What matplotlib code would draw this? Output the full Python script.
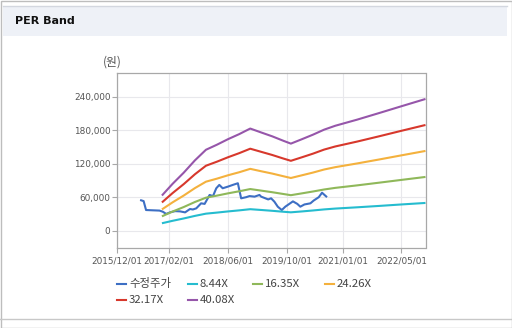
import matplotlib
matplotlib.use("Agg")
import matplotlib.pyplot as plt
from matplotlib.lines import Line2D
from matplotlib.patches import Rectangle
from matplotlib.ticker import FuncFormatter
import pandas as pd

# ---------------- data ----------------
price_dates = ["2016-06-06", "2016-07-05", "2016-07-25", "2016-11-13", "2016-12-10",
               "2017-01-07", "2017-02-10", "2017-03-22", "2017-05-01", "2017-06-12",
               "2017-07-22", "2017-08-15", "2017-09-12", "2017-10-22", "2017-11-20",
               "2017-12-31", "2018-01-28", "2018-02-24", "2018-03-21", "2018-04-18",
               "2018-06-01", "2018-07-10", "2018-08-21", "2018-09-17", "2018-10-28",
               "2018-11-25", "2019-01-06", "2019-02-15", "2019-03-01", "2019-04-28",
               "2019-05-22", "2019-06-18", "2019-07-16", "2019-08-18", "2019-09-16",
               "2019-11-18", "2019-12-24", "2020-01-18", "2020-02-21", "2020-04-10",
               "2020-05-07", "2020-06-18", "2020-07-15", "2020-08-25"]
price = [55000, 53000, 37000, 36000, 34000,
         30000, 33000, 35000, 34600, 32800,
         38800, 38000, 40000, 49000, 48000,
         64000, 62000, 76000, 82000, 76000,
         79000, 82000, 85000, 58000, 60000,
         62000, 61000, 64000, 61000, 56000,
         58000, 52000, 43000, 37000, 43000,
         52500, 48000, 43000, 47000, 49000,
         54000, 60000, 68000, 60000]

band_dates = ["2016-12-03", "2017-03-01", "2017-06-01", "2017-09-01", "2017-12-01",
              "2018-03-01", "2018-06-01", "2018-09-01", "2018-12-01", "2019-03-01",
              "2019-06-01", "2019-09-01", "2019-11-01", "2020-02-01", "2020-05-01",
              "2020-08-01", "2020-11-01", "2021-05-01", "2021-11-01", "2022-05-01",
              "2022-11-15"]
band_844 = [13300, 17700, 21900, 26500, 30500, 32400, 34500, 36400, 38500, 37100,
            35600, 33900, 32900, 34500, 36200, 38100, 39600, 41900, 44400, 47000, 49700]
band_1635 = [25700, 34300, 42400, 51400, 59100, 62800, 66900, 70600, 74600, 71800,
             68900, 65700, 63600, 66900, 70200, 73800, 76700, 81200, 86100, 91000, 96300]
band_2426 = [38100, 50800, 63000, 76300, 87800, 93200, 99300, 104700, 110800, 106500,
             102300, 97500, 94400, 99300, 104100, 109600, 113800, 120500, 127700, 135000, 142900]
band_3217 = [50600, 67400, 83500, 101100, 116400, 123600, 131600, 138900, 146900, 141300,
             135600, 129200, 125200, 131600, 138000, 145300, 150900, 159700, 169300, 179000, 189400]
band_4008 = [63000, 84000, 104000, 126000, 145000, 154000, 164000, 173000, 183000, 176000,
             169000, 161000, 156000, 164000, 172000, 181000, 188000, 199000, 211000, 223000, 236000]

labels = ["수정주가", "8.44X", "16.35X", "24.26X", "32.17X", "40.08X"]
colors = ["#3d6fc4", "#25bccf", "#8fb85a", "#f4b13d", "#d7382c", "#9656aa"]

xtick_labels = ["2015/12/01", "2017/02/01", "2018/06/01", "2019/10/01", "2021/01/01", "2022/05/01"]
yticks = [0, 60000, 120000, 180000, 240000]

# ---------------- figure ----------------
W, H = 512, 328
fig = plt.figure(figsize=(W / 100, H / 100), dpi=100)
fig.patch.set_facecolor("white")

def px(x, y):
    return x / W, 1 - y / H

# frame and header
fig.add_artist(Rectangle((0.5 / W, 0.5 / H), (W - 1) / W, (H - 1) / H, transform=fig.transFigure,
                         fill=False, edgecolor="#bdbdbd", linewidth=1.0))
fig.add_artist(Rectangle(px(3, 36), (504) / W, 30 / H, transform=fig.transFigure,
                         facecolor="#eef1f7", edgecolor="none"))
fig.add_artist(Line2D([3 / W, 507 / W], [1 - 5.7 / H] * 2, transform=fig.transFigure,
                      color="#d3d7df", linewidth=1.0))
fig.add_artist(Line2D([0, 1], [1 - 318.5 / H] * 2, transform=fig.transFigure,
                      color="#c8c8c8", linewidth=1.0))
fig.text(*px(15, 21.5), "PER Band", fontsize=8, fontweight="bold", color="#111111",
         ha="left", va="center", family="DejaVu Sans")

ax = fig.add_axes([117.3 / W, 1 - 247.7 / H, (425.5 - 117.3) / W, (247.7 - 73.3) / H])

pd_price = pd.to_datetime(price_dates)
pd_band = pd.to_datetime(band_dates)
series = [(pd_price, price), (pd_band, band_844), (pd_band, band_1635),
          (pd_band, band_2426), (pd_band, band_3217), (pd_band, band_4008)]
for (d, v), c in zip(series, colors):
    ax.plot(d, v, color=c, linewidth=1.5, solid_capstyle="butt")

ax.set_xlim(pd.Timestamp("2015-12-01"), pd.Timestamp("2022-11-15"))
ax.set_ylim(-30500, 282000)
ax.set_xticks(pd.to_datetime([s.replace("/", "-") for s in xtick_labels]))
ax.set_xticklabels(xtick_labels)
ax.set_yticks(yticks)
ax.yaxis.set_major_formatter(FuncFormatter(lambda v, p: f"{int(v):,}"))

ax.grid(True, color="#e8e8ec", linewidth=0.8)
ax.set_axisbelow(True)
for s in ax.spines.values():
    s.set_color("#a8a8a8")
    s.set_linewidth(0.9)
ax.tick_params(axis="both", colors="#a8a8a8", labelcolor="#555555", labelsize=6.4)
ax.tick_params(axis="x", length=3.5, pad=3)
ax.tick_params(axis="y", length=3.5, pad=1.5)
for t in ax.get_xticklabels() + ax.get_yticklabels():
    t.set_family("DejaVu Sans")

fig.text(*px(112, 62.5), "(원)", fontsize=8.5, color="#555555", ha="center", va="center",
         family=["Noto Sans CJK KR", "DejaVu Sans"])

# legend (manual layout)
leg_pos = [(117, 284), (188, 284), (253, 284), (325, 284), (117, 300), (188, 300)]
for (lx, ly), lab, c in zip(leg_pos, labels, colors):
    fig.add_artist(Line2D([lx / W, (lx + 9) / W], [1 - ly / H] * 2, transform=fig.transFigure,
                          color=c, linewidth=1.5))
    fig.text((lx + 12) / W, 1 - ly / H, lab, fontsize=8.2, color="#444444",
             ha="left", va="center", family=["Noto Sans CJK KR", "DejaVu Sans"])

fig.savefig("out.png", dpi=100)
